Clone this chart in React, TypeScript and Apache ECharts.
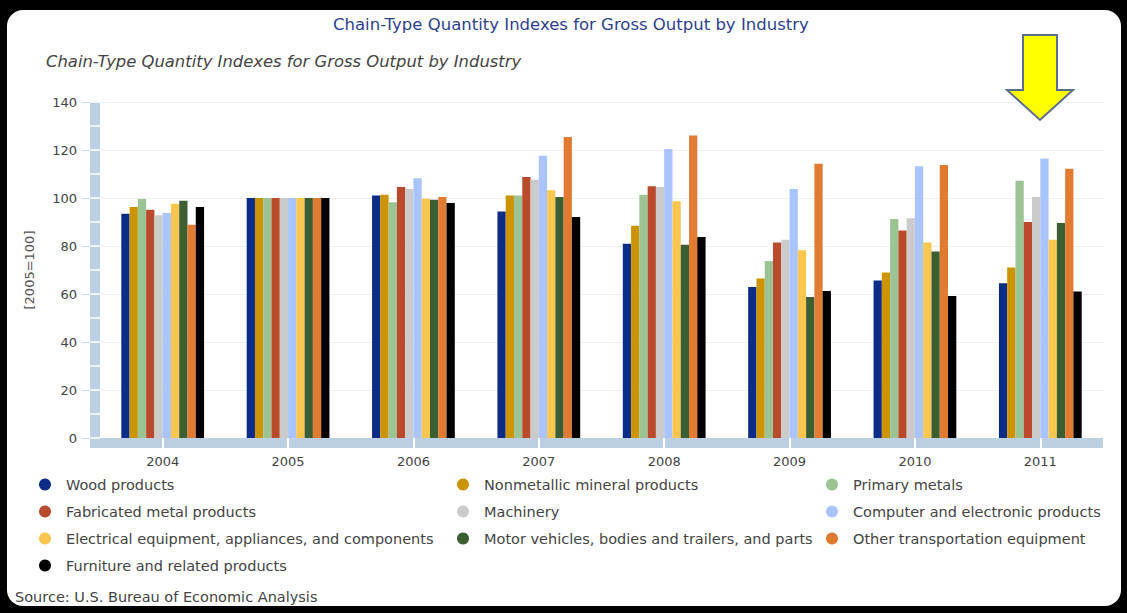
import React, { useEffect, useRef } from "react";
import * as echarts from "echarts";

const years = ["2004", "2005", "2006", "2007", "2008", "2009", "2010", "2011"];

const woodProducts = [93.4, 100, 101.0, 94.4, 80.9, 62.9, 65.6, 64.5];
const nonmetallicMineral = [96.2, 100, 101.4, 101.0, 88.4, 66.5, 69.0, 71.0];
const primaryMetals = [99.6, 100, 98.2, 101.0, 101.4, 73.8, 91.2, 107.2];
const fabricatedMetal = [95.1, 100, 104.6, 108.8, 104.9, 81.5, 86.5, 90.0];
const machinery = [92.8, 100, 103.7, 107.6, 104.6, 82.6, 91.6, 100.4];
const computerElectronic = [93.7, 100, 108.2, 117.6, 120.4, 103.7, 113.2, 116.5];
const electricalEquipment = [97.6, 100, 99.7, 103.2, 98.6, 78.2, 81.5, 82.6];
const motorVehicles = [98.9, 100, 99.3, 100.4, 80.5, 58.7, 77.7, 89.6];
const otherTransportation = [88.9, 100, 100.4, 125.4, 126.0, 114.3, 113.8, 112.2];
const furniture = [96.2, 100, 97.9, 92.1, 83.7, 61.3, 59.2, 61.0];

const seriesNames = [
  "Wood products",
  "Nonmetallic mineral products",
  "Primary metals",
  "Fabricated metal products",
  "Machinery",
  "Computer and electronic products",
  "Electrical equipment, appliances, and components",
  "Motor vehicles, bodies and trailers, and parts",
  "Other transportation equipment",
  "Furniture and related products",
];
const seriesData = [
  woodProducts,
  nonmetallicMineral,
  primaryMetals,
  fabricatedMetal,
  machinery,
  computerElectronic,
  electricalEquipment,
  motorVehicles,
  otherTransportation,
  furniture,
];
const seriesColors = [
  "#0b2c87",
  "#cc9400",
  "#9cc393",
  "#b94a2c",
  "#cbcbcb",
  "#aac4ff",
  "#f9c74f",
  "#3c5e33",
  "#e07b31",
  "#000000",
];

const FONT = "DejaVu Sans";
const AXIS_BLUE = "#bdd0e3";

export default function App() {
  const ref = useRef<HTMLDivElement>(null);
  useEffect(() => {
    const chart = echarts.init(ref.current!, undefined, { renderer: "svg" });
    const legendBase = {
      orient: "vertical",
      icon: "circle",
      itemWidth: 32,
      itemHeight: 12,
      itemGap: 12,
      padding: 0,
      top: 477,
      textStyle: { fontFamily: FONT, fontSize: 14.5, color: "#444", lineHeight: 14 },
    };
    chart.setOption({
      animation: false,
      backgroundColor: "transparent",
      textStyle: { fontFamily: FONT },
      title: [
        {
          text: "Chain-Type Quantity Indexes for Gross Output by Industry",
          left: 333,
          top: 16,
          padding: 0,
          textStyle: { fontFamily: FONT, fontSize: 16.5, fontWeight: "normal", color: "#2e3f8f" },
        },
        {
          text: "Chain-Type Quantity Indexes for Gross Output by Industry",
          left: 46,
          top: 53,
          padding: 0,
          textStyle: { fontFamily: FONT, fontSize: 16.4, fontStyle: "italic", fontWeight: "normal", color: "#444" },
        },
        {
          text: "Source: U.S. Bureau of Economic Analysis",
          left: 15,
          top: 589,
          padding: 0,
          textStyle: { fontFamily: FONT, fontSize: 14.5, fontWeight: "normal", color: "#444" },
        },
      ],
      legend: [
        { ...legendBase, left: 39, data: [seriesNames[0], seriesNames[3], seriesNames[6], seriesNames[9]] },
        { ...legendBase, left: 457, data: [seriesNames[1], seriesNames[4], seriesNames[7]] },
        { ...legendBase, left: 826, data: [seriesNames[2], seriesNames[5], seriesNames[8]] },
      ],
      grid: { left: 100, right: 24, top: 102, bottom: 175, containLabel: false },
      xAxis: [
        {
          type: "category",
          data: years,
          position: "bottom",
          offset: 5,
          axisLine: {
            show: true,
            onZero: false,
            symbol: ["rect", "none"],
            symbolSize: [10, 20],
            lineStyle: { color: AXIS_BLUE, width: 10, cap: "butt" },
          },
          axisTick: { show: false },
          axisLabel: { margin: 12, fontFamily: FONT, fontSize: 13, color: "#444" },
        },
        {
          type: "category",
          data: years,
          position: "bottom",
          offset: 0,
          z: 3,
          axisLine: { show: false, onZero: false },
          axisTick: { show: true, alignWithLabel: true, length: 10, lineStyle: { color: "#ffffff", width: 2 } },
          axisLabel: { show: false },
        },
      ],
      yAxis: [
        {
          type: "value",
          min: 0,
          max: 140,
          interval: 20,
          position: "left",
          offset: 5,
          name: "[2005=100]",
          nameLocation: "middle",
          nameGap: 59,
          nameTextStyle: { fontFamily: FONT, fontSize: 13, color: "#555" },
          axisLine: { show: true, onZero: false, lineStyle: { color: AXIS_BLUE, width: 10, cap: "butt" } },
          axisTick: { show: true, length: 13, lineStyle: { color: "#c9d6e4", width: 1 } },
          axisLabel: { margin: 18, fontFamily: FONT, fontSize: 13, color: "#444" },
          splitLine: { show: true, lineStyle: { color: "#f0f0f0", width: 1 } },
        },
        {
          type: "value",
          min: 0,
          max: 140,
          interval: 10,
          position: "left",
          offset: 0,
          z: 3,
          axisLine: { show: false, onZero: false },
          axisTick: { show: true, length: 10, lineStyle: { color: "#ffffff", width: 1.5 } },
          axisLabel: { show: false },
          splitLine: { show: false },
        },
      ],
      series: seriesNames.map((name, i) => ({
        name,
        type: "bar",
        xAxisIndex: 0,
        yAxisIndex: 0,
        data: seriesData[i],
        itemStyle: { color: seriesColors[i] },
        barGap: "0%",
        barCategoryGap: "34%",
      })),
      graphic: [
        {
          type: "polygon",
          z: 10,
          shape: {
            points: [
              [1023, 35],
              [1057, 35],
              [1057, 90],
              [1073, 90],
              [1040, 120],
              [1007, 90],
              [1023, 90],
            ],
          },
          style: { fill: "#ffff00", stroke: "#5a6f8f", lineWidth: 2 },
        },
      ],
    });
    return () => chart.dispose();
  }, []);
  return (
    <div style={{ position: "fixed", left: 0, top: 0, width: 1127, height: 613, background: "#000" }}>
      <div
        style={{
          position: "absolute",
          left: 7,
          top: 10,
          width: 1114,
          height: 596,
          background: "#fff",
          borderRadius: 16,
        }}
      />
      <div ref={ref} style={{ position: "absolute", left: 0, top: 0, width: 1127, height: 613 }} />
    </div>
  );
}
